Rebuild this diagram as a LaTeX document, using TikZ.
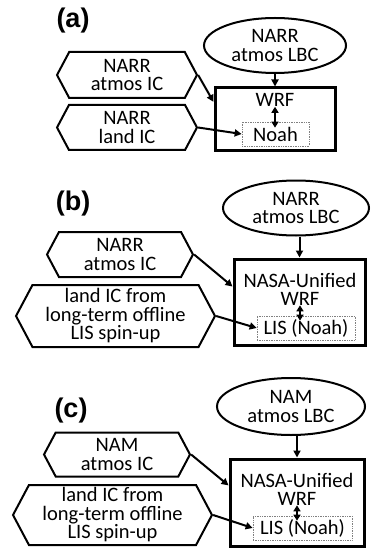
\documentclass[tikz,border=0pt]{standalone}
\usepackage{fontspec}
\setmainfont{Carlito}
\newfontfamily\panelfont{Liberation Sans}
\usetikzlibrary{shapes.geometric,shapes.symbols,arrows.meta,calc}

\tikzset{
  source/.style={ellipse, draw, line width=2pt, inner sep=0pt, align=center},
  initbox/.style={signal, signal to=west and east, signal pointer angle=124, draw, line width=2pt, inner sep=0pt, align=center},
  modelbox/.style={rectangle, draw, line width=3pt, inner sep=0pt},
  lsmbox/.style={rectangle, draw=gray, densely dotted, line width=0.7pt, inner sep=0pt},
  modeltext/.style={align=center, inner sep=1pt, font=\fontsize{20.5}{18}\selectfont},
  flow/.style={-{Triangle[length=7pt,width=7pt]}, line width=2pt},
  coupling/.style={{Triangle[length=6pt,width=7pt]}-{Triangle[length=6pt,width=7pt]}, line width=2pt},
  panel/.style={font=\panelfont\bfseries\fontsize{27}{30}\selectfont},
}

\begin{document}
\begin{tikzpicture}[x=1pt, y=-1pt, font=\fontsize{20.5}{18.5}\selectfont]
    \useasboundingbox (0,0) rectangle (379,548);

    % Panel (a): NARR driven WRF
    \node[panel] (alabel) at (73,21) {(a)};
    \node[source, minimum width=142pt, minimum height=55pt] (aLBC) at (275,45.5) {NARR\\atmos LBC};
    \node[initbox, minimum width=140pt, minimum height=46pt] (aIC) at (127,75) {NARR\\atmos IC};
    \node[initbox, minimum width=140pt, minimum height=45pt] (aLand) at (127,127.5) {NARR\\land IC};
    \node[modelbox, minimum width=120pt, minimum height=63pt] (aWRF) at (275,119.5) {};
    \node[modeltext] (aWRFtext) at (275,100) {WRF};
    \node[lsmbox, minimum width=67pt, minimum height=24pt] (aNoah) at (275.5,134) {Noah};
    \draw[flow] (aLBC.south -| aWRF.north) -- (aWRF.north);
    \draw[flow] (aIC.east) -- (aWRF.164);
    \draw[flow] (aLand.east) -- (aNoah.west);
    \draw[coupling] ([yshift=1pt]aWRFtext.south) -- ([yshift=-6pt]aNoah.north -| aWRFtext.south);

    % Panel (b): NU-WRF with LIS spin-up, NARR forcing
    \node[panel] (blabel) at (73,204) {(b)};
    \node[source, minimum width=146pt, minimum height=55pt] (bLBC) at (296,208) {NARR\\atmos LBC};
    \node[initbox, minimum width=146pt, minimum height=45pt] (bIC) at (120,254.5) {NARR\\atmos IC};
    \node[initbox, minimum width=199pt, minimum height=62pt] (bLand) at (115.5,316) {land IC from\\long-term offline\\LIS spin-up};
    \node[modelbox, minimum width=131pt, minimum height=86pt] (bWRF) at (299.5,302) {};
    \node[modeltext] (bWRFtext) at (300,289) {NASA-Unified\\WRF};
    \node[lsmbox, minimum width=98pt, minimum height=24pt] (bLIS) at (306,328) {LIS (Noah)};
    \draw[flow] (bLBC.south -| bWRF.north) -- (bWRF.north);
    \draw[flow] (bIC.east) -- (bWRF.167);
    \draw[flow] (bLand.east) -- (bLIS.west);
    \draw[coupling] ([yshift=1pt]bWRFtext.south) -- ([yshift=-5pt]bLIS.north -| bWRFtext.south);

    % Panel (c): NU-WRF with LIS spin-up, NAM forcing
    \node[panel] (clabel) at (71,411) {(c)};
    \node[source, minimum width=148pt, minimum height=57pt] (cLBC) at (291,406.5) {NAM\\atmos LBC};
    \node[initbox, minimum width=146pt, minimum height=44pt] (cIC) at (117,454.5) {NAM\\atmos IC};
    \node[initbox, minimum width=199pt, minimum height=60pt] (cLand) at (112.5,515) {land IC from\\long-term offline\\LIS spin-up};
    \node[modelbox, minimum width=134pt, minimum height=87pt] (cWRF) at (297,502.5) {};
    \node[modeltext] (cWRFtext) at (297,489) {NASA-Unified\\WRF};
    \node[lsmbox, minimum width=99pt, minimum height=24pt] (cLIS) at (302.5,528) {LIS (Noah)};
    \draw[flow] (cLBC.south -| cWRF.north) -- (cWRF.north);
    \draw[flow] (cIC.east) -- (cWRF.166);
    \draw[flow] (cLand.east) -- (cLIS.west);
    \draw[coupling] ([yshift=1pt]cWRFtext.south) -- ([yshift=-5pt]cLIS.north -| cWRFtext.south);
\end{tikzpicture}
\end{document}
